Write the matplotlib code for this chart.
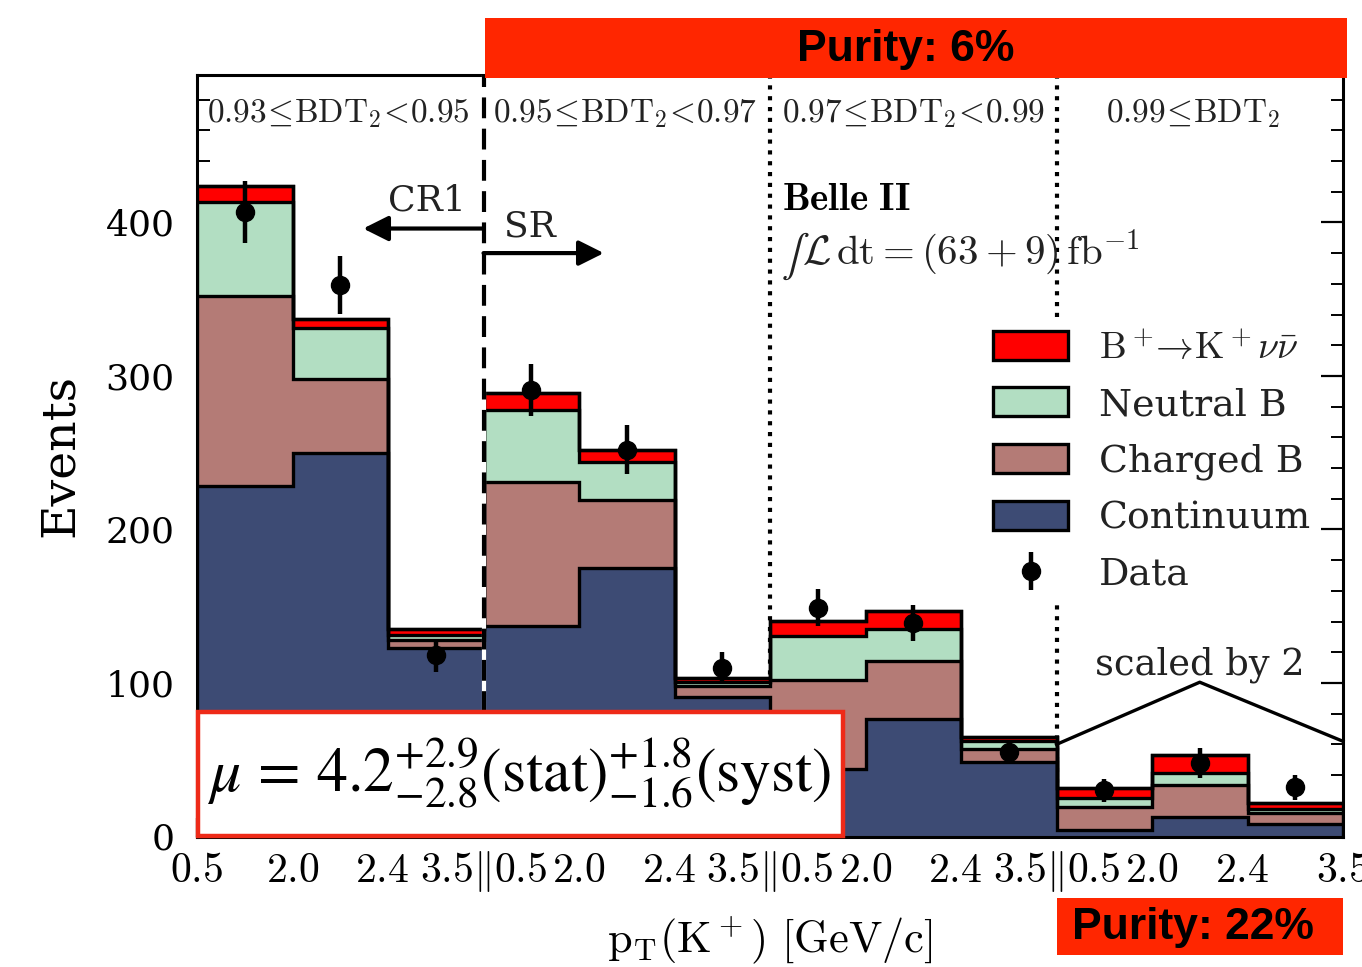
import numpy as np
import matplotlib
matplotlib.use("Agg")
import matplotlib.pyplot as plt
import matplotlib.transforms as mtransforms
from matplotlib.patches import Rectangle, Patch

plt.rcParams['mathtext.fontset'] = 'cm'
plt.rcParams['font.family'] = ['DejaVu Serif']

# ---------------- data (12 bins: 4 BDT2 regions x 3 pT bins) ----------------
continuum = [228, 250, 123, 137, 175, 91, 44, 76.5, 48.7, 2.1, 6.2, 4.0]
charged_b = [124, 48, 5, 94, 44, 7, 58, 37.5, 8.3, 7.6, 10.5, 3.7]
neutral_b = [61.5, 33, 3.5, 47, 25, 2.5, 28.5, 21, 5.0, 3.0, 3.9, 1.1]
signal = [10.5, 6, 3.5, 11, 8, 2.5, 10, 12, 3.0, 3.0, 6.1, 2.2]
data = [407, 359, 118, 291, 252, 110, 149, 139, 55, 15, 24, 16]
scale = [1, 1, 1, 1, 1, 1, 1, 1, 1, 2, 2, 2]   # last region "scaled by 2"

region_labels = [r'$0.93\!\leq\!\mathrm{BDT}_2\!<\!0.95$',
                 r'$0.95\!\leq\!\mathrm{BDT}_2\!<\!0.97$',
                 r'$0.97\!\leq\!\mathrm{BDT}_2\!<\!0.99$',
                 r'$0.99\!\leq\!\mathrm{BDT}_2$']
tick_labels = [r'$0.5$', r'$2.0$', r'$2.4$', r'$3.5\Vert0.5$', r'$2.0$', r'$2.4$',
               r'$3.5\Vert0.5$', r'$2.0$', r'$2.4$', r'$3.5\Vert0.5$', r'$2.0$',
               r'$2.4$', r'$3.5$']

comp_names = [r'$\mathrm{B}^+\!\!\rightarrow\!\mathrm{K}^+\nu\bar{\nu}$', 'Neutral B',
              'Charged B', 'Continuum']
comp_colors = ['#ff0000', '#b2dec2', '#b47b76', '#3d4b74']

# ---------------- figure ----------------
fig = plt.figure(figsize=(13.62, 9.67), dpi=100)
ax = fig.add_axes([197/1362, 1-836.5/967, 1146/1362, 761.5/967])

sc = np.array(scale, dtype=float)
cont = np.array(continuum) * sc
chg = np.array(charged_b) * sc
neu = np.array(neutral_b) * sc
sig = np.array(signal) * sc
dat = np.array(data) * sc
err = np.sqrt(np.array(data, dtype=float)) * sc

edges = np.arange(len(continuum) + 1)
layers = [cont, chg, neu, sig]
colors = [comp_colors[3], comp_colors[2], comp_colors[1], comp_colors[0]]
bottom = np.zeros(len(cont))
for vals, c in zip(layers, colors):
    top = bottom + vals
    ax.stairs(top, edges, baseline=bottom, fill=True, color=c, zorder=2)
    bottom = top
bottom = np.zeros(len(cont))
for vals in layers:
    top = bottom + vals
    ax.stairs(top, edges, baseline=None, color='black', lw=2.4, zorder=2.5)
    bottom = top
ax.stairs(bottom, edges, baseline=0, color='black', lw=2.4, zorder=2.5, fill=False)

centers = edges[:-1] + 0.5
ax.errorbar(centers, dat, yerr=err, fmt='o', color='black', ms=13, elinewidth=3.2,
            capsize=0, zorder=4)

# separators
ax.axvline(3, color='white', lw=3, zorder=3)
ax.axvline(3, color='black', lw=3, ls=(0, (5, 2.5)), zorder=3.1)
for xv in (6, 9):
    ax.axvline(xv, color='black', lw=3, ls=(0, (1, 1.6)), zorder=1)

ax.set_xlim(0, 12)
ax.set_ylim(0, 496)
ax.set_xticks(edges)
ax.set_xticklabels(tick_labels, fontsize=30)
ax.set_yticks([0, 100, 200, 300, 400])
ax.set_yticks(np.arange(0, 497, 20), minor=True)
ax.tick_params(axis='y', which='major', direction='in', length=16, width=1.6,
               labelsize=26, pad=16, left=True, right=True)
ax.tick_params(axis='y', which='minor', direction='in', length=9, width=1.4,
               left=True, right=True)
ax.tick_params(axis='x', which='major', direction='in', length=14, width=1.6, pad=9)
for lab in ax.get_yticklabels():
    lab.set_fontfamily('DejaVu Serif')
shift = mtransforms.ScaledTranslation(-6/100, 0, fig.dpi_scale_trans)
for i, lab in enumerate(ax.get_xticklabels()):
    if i in (2, 5, 8, 11):
        lab.set_transform(lab.get_transform() + shift)
for s in ax.spines.values():
    s.set_linewidth(2.2)

ax.set_ylabel('Events', fontsize=34)
ax.yaxis.set_label_coords(-0.100, 0.5)

fig.text(770/1362, 1-940/967, r'$\mathrm{p_T(K^+)\ [GeV/c]}$', fontsize=32,
         ha='center', va='center')

# region labels
for xc, lab in zip([1.48, 4.48, 7.5, 10.43], region_labels):
    ax.text(xc, 471, lab, fontsize=24, ha='center', va='center', color='#222222')

# CR / SR arrows
ax.annotate('', xy=(1.74, 396), xytext=(3.0, 396),
            arrowprops=dict(arrowstyle='-|>', lw=3, mutation_scale=38, color='black',
                            shrinkA=0, shrinkB=0))
ax.annotate('', xy=(4.26, 380), xytext=(3.0, 380),
            arrowprops=dict(arrowstyle='-|>', lw=3, mutation_scale=38, color='black',
                            shrinkA=0, shrinkB=0))
ax.text(2.41, 414, 'CR1', fontsize=26, ha='center', va='center', color='#222222')
ax.text(3.49, 397, 'SR', fontsize=26, ha='center', va='center', color='#222222')

# Belle II
ax.text(6.13, 415, r'$\mathbf{Belle\ II}$', fontsize=28, ha='left', va='center')
ax.text(6.11, 378, r'$\int$', math_fontfamily='stix', fontsize=30,
        ha='left', va='center', color='#222222')
ax.text(6.34, 380, r'$\mathcal{L}\,\mathrm{dt} = (63+9)\,\mathrm{fb}^{-1}$',
        fontsize=29.5, ha='left', va='center', color='#222222')

# scaled by 2
ax.plot([9, 10.5, 12], [60, 100.5, 62], color='black', lw=2.4, zorder=3, clip_on=False)
ax.text(10.5, 112, 'scaled by 2', fontsize=26.5, ha='center', va='center', color='#222222')

# legend
handles = [Patch(facecolor=c, edgecolor='black', lw=2.4) for c in comp_colors]
eb = ax.errorbar([], [], yerr=[], fmt='o', color='black', ms=13, elinewidth=3.2, capsize=0)
handles.append(eb)
labels = comp_names + ['Data']
leg = ax.legend(handles, labels, loc='upper left',
                bbox_to_anchor=(985/1362, 1-323/967), bbox_transform=fig.transFigure,
                fontsize=27.3, frameon=True, framealpha=1, edgecolor='white',
                handlelength=2.0, handleheight=0.8, handletextpad=0.8,
                labelspacing=0.54, borderpad=0.2, borderaxespad=0)
leg.get_frame().set_linewidth(0)
for t in leg.get_texts():
    t.set_color('#222222')
leg.set_zorder(5)

# mu box
ax.add_patch(Rectangle((0.001, 0.0007), 0.5627, 0.163, transform=ax.transAxes,
                       facecolor='white', edgecolor='#ee2a18', lw=3.2, zorder=6,
                       clip_on=False))
ax.text(0.009, 0.083,
        r'$\mu\,=\,4.2^{+2.9}_{-2.8}(\mathrm{stat})^{+1.8}_{-1.6}(\mathrm{syst})$',
        transform=ax.transAxes, fontsize=44.5, ha='left', va='center',
        math_fontfamily='stix', zorder=7)

# purity boxes
fig.patches.append(Rectangle((485/1362, 1-78/967), 862/1362, 60/967,
                             transform=fig.transFigure, facecolor='#ff2600',
                             edgecolor='none', zorder=10))
fig.text(906/1362, 1-50/967, 'Purity: 6%', fontsize=32, fontweight='bold',
         family='Liberation Sans', ha='center', va='center', zorder=11)
fig.patches.append(Rectangle((1057/1362, 1-955/967), 286/1362, 57/967,
                             transform=fig.transFigure, facecolor='#ff2600',
                             edgecolor='none', zorder=10))
fig.text(1193/1362, 1-928/967, 'Purity: 22%', fontsize=32, fontweight='bold',
         family='Liberation Sans', ha='center', va='center', zorder=11)

fig.savefig('out.png', dpi=100)
